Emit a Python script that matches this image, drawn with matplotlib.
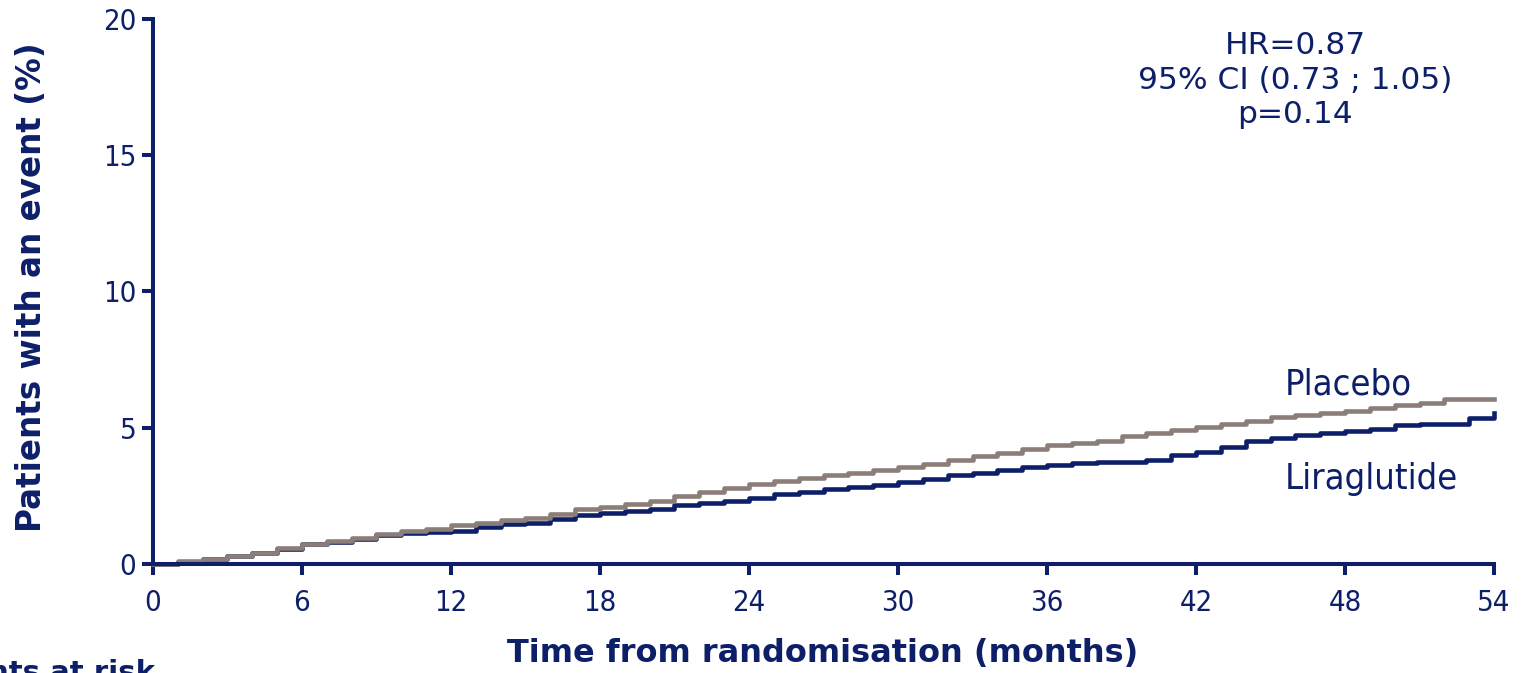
import matplotlib.pyplot as plt

# cumulative incidence (%) read monthly
months = list(range(0, 55))
liraglutide = [0, 0.08, 0.18, 0.30, 0.40, 0.55, 0.72, 0.80, 0.92, 1.05,
               1.12, 1.17, 1.20, 1.35, 1.45, 1.52, 1.65, 1.80, 1.88, 1.95,
               2.02, 2.15, 2.22, 2.30, 2.42, 2.55, 2.65, 2.75, 2.82, 2.90,
               3.00, 3.12, 3.25, 3.35, 3.45, 3.55, 3.65, 3.72, 3.75, 3.76,
               3.80, 4.00, 4.12, 4.30, 4.50, 4.62, 4.72, 4.80, 4.87, 4.95,
               5.10, 5.13, 5.15, 5.35, 5.55]
placebo = [0, 0.10, 0.20, 0.30, 0.42, 0.58, 0.75, 0.85, 0.95, 1.10,
           1.22, 1.30, 1.42, 1.50, 1.60, 1.68, 1.82, 2.00, 2.10, 2.20,
           2.30, 2.50, 2.65, 2.80, 2.92, 3.05, 3.15, 3.25, 3.35, 3.45,
           3.55, 3.68, 3.80, 3.95, 4.08, 4.22, 4.35, 4.45, 4.52, 4.70,
           4.82, 4.92, 5.02, 5.15, 5.25, 5.38, 5.45, 5.55, 5.63, 5.72,
           5.82, 5.90, 6.05, 6.05, 6.05]

xticks = list(range(0, 55, 6))
yticks = [0, 5, 10, 15, 20]
stats_text = "HR=0.87\n95% CI (0.73 ; 1.05)\np=0.14"

navy = '#0c1f68'
grey = '#8b7d78'

fig = plt.figure(figsize=(15.25, 6.73), dpi=100)
ax = fig.add_axes([0.1003, 0.1620, 0.8794, 0.8098])

ax.step(months, liraglutide, where='post', color=navy, lw=3.3, clip_on=False)
ax.step(months, placebo, where='post', color=grey, lw=3.3, clip_on=False)

ax.set_xlim(0, 54)
ax.set_ylim(0, 20)
ax.set_xticks(xticks)
ax.set_yticks(yticks)

for s in ['top', 'right']:
    ax.spines[s].set_visible(False)
for s in ['left', 'bottom']:
    ax.spines[s].set_color(navy)
    ax.spines[s].set_linewidth(2.9)
    ax.spines[s].set_zorder(5)

ax.tick_params(axis='both', colors=navy, width=2.9, length=8, direction='out')
ax.tick_params(axis='x', pad=10)
ax.tick_params(axis='y', pad=4)
for lab in ax.get_xticklabels() + ax.get_yticklabels():
    lab.set_fontfamily('DejaVu Sans')
    lab.set_fontstretch('condensed')
    lab.set_fontsize(21)
    lab.set_color(navy)

ax.set_ylabel('Patients with an event (%)', fontsize=23.5, fontweight='bold',
              color=navy, va='center')
ax.set_xlabel('Time from randomisation (months)', fontsize=23,
              fontweight='bold', color=navy, va='center')
ax.yaxis.set_label_coords(-0.0902, 0.507)
ax.xaxis.set_label_coords(0.4993, -0.165)

ax.text(46.0, 17.76, stats_text, ha='center', va='center', fontsize=22.5,
        color=navy, linespacing=1.22)
ax.text(48.13, 6.6, 'Placebo', ha='center', va='center', fontsize=26,
        fontstretch='condensed', color=navy)
ax.text(49.07, 3.1, 'Liraglutide', ha='center', va='center', fontsize=26,
        fontstretch='condensed', color=navy)

fig.text(155 / 1525, 1 - 659 / 673, 'Patients at risk', ha='right', va='top',
         fontsize=21, fontweight='bold', color=navy)

fig.savefig('out.png', dpi=100)
